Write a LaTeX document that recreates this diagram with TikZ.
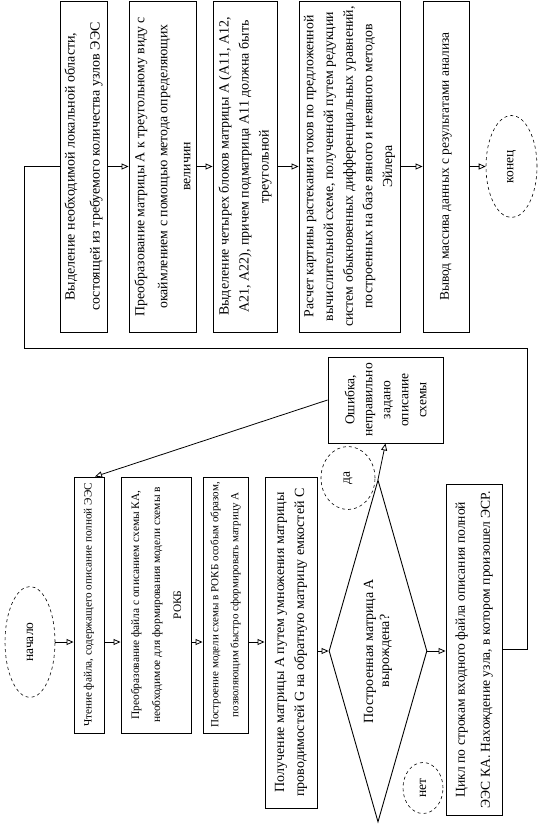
\documentclass[tikz,border=0pt]{standalone}
\usepackage{fontspec}
\setmainfont{Liberation Serif}
\usepackage{graphicx}
\usetikzlibrary{arrows.meta,shapes.geometric}
% rotated text block: width along the text, then the lines
\newcommand{\vtxt}[2]{\rotatebox{90}{\parbox{#1}{\centering #2}}}
\tikzset{
  >={Triangle[open,length=7pt,width=6pt]},
  fs/.style 2 args={font=\fontsize{#1}{#2}\selectfont},
  blk/.style={draw,line width=0.9pt,inner sep=0pt,fs={14}{20}},
  term/.style={ellipse,draw,dashed,line width=0.6pt,inner sep=0pt,fs={13.5}{15}},
  dec/.style={diamond,draw,line width=0.9pt,inner sep=0pt,aspect=0.29,fs={14}{16}},
  arr/.style={->,line width=0.8pt},
  ln/.style={line width=0.9pt},
}
\begin{document}
\begin{tikzpicture}[x=1pt,y=-1pt]
  \useasboundingbox (0,0) rectangle (552,828);
  % верхний ряд
  \node[blk,fs={14}{25},minimum width=47,minimum height=331] (b1) at (83.5,166.5)
    {\vtxt{326pt}{Выделение необходимой локальной области,\\
     состоящей из требуемого количества узлов ЭЭС}};
  \node[blk,fs={13.8}{23},minimum width=67,minimum height=331] (b2) at (162.5,166.5)
    {\vtxt{326pt}{Преобразование матрицы А к треугольному виду с\\
     окаймлением с помощью метода определяющих\\ величин}};
  \node[blk,minimum width=64,minimum height=331] (b3) at (245,166.5)
    {\vtxt{326pt}{Выделение четырех блоков матрицы А (А11, А12,\\
     А21, А22), причем подматрица А11 должна быть\\ треугольной}};
  \node[blk,fs={13.8}{19.7},minimum width=101,minimum height=331] (b4) at (349.5,166.5)
    {\vtxt{326pt}{Расчет картины растекания токов по предложенной\\
     вычислительной схеме, полученной путем редукции\\
     систем обыкновенных дифференциальных уравнений,\\
     построенных на базе явного и неявного методов\\ Эйлера}};
  \node[blk,fs={13.4}{20},minimum width=46,minimum height=331] (b5) at (446,166.5)
    {\vtxt{326pt}{Вывод массива данных с результатами анализа}};
  \node[term,minimum width=51,minimum height=102] (kon) at (511.5,166.5)
    {\rotatebox{90}{конец}};
  % нижний ряд
  \node[term,minimum width=50,minimum height=111] (nach) at (30,642)
    {\rotatebox{90}{начало}};
  \node[blk,fs={11.2}{20},minimum width=30,minimum height=256] (chten) at (89,605)
    {\vtxt{252pt}{Чтение файла, содержащего описание полной ЭЭС}};
  \node[blk,fs={11.4}{21},minimum width=70,minimum height=256] (preob) at (156,605)
    {\vtxt{252pt}{Преобразование файла с описанием схемы КА,\\
     необходимое для формирования модели схемы в\\ РОКБ}};
  \node[blk,fs={11}{20},minimum width=45,minimum height=256] (postr) at (225.5,605)
    {\vtxt{252pt}{Построение модели схемы в РОКБ особым образом,\\
     позволяющим быстро сформировать матрицу А}};
  \node[blk,minimum width=52,minimum height=331] (poluch) at (291,642.5)
    {\vtxt{326pt}{Получение матрицы А путем умножения матрицы\\
     проводимостей G на обратную матрицу емкостей С}};
  \node[dec,minimum width=98,minimum height=342] (dia) at (378,651)
    {\vtxt{170pt}{Построенная матрица А\\ вырождена?}};
  \node[blk,fs={13.6}{25},minimum width=56,minimum height=331] (cycl) at (474,649.5)
    {\vtxt{326pt}{Цикл по строкам входного файла описания полной\\
     ЭЭС КА. Нахождение узла, в котором произошел ЭСР.}};
  \node[blk,fs={13.5}{18},minimum width=115,minimum height=86] (err) at (385.5,400)
    {\vtxt{84pt}{Ошибка,\\ неправильно\\ задано\\ описание\\ схемы}};
  \node[term,minimum width=54,minimum height=63] (da) at (348,478)
    {\rotatebox{90}{да}};
  \node[term,minimum width=40,minimum height=51] (net) at (423,788)
    {\rotatebox{90}{нет}};
  % связи
  \draw[arr] (b1) -- (b2);
  \draw[arr] (b2) -- (b3);
  \draw[arr] (b3) -- (b4);
  \draw[arr] (b4) -- (b5);
  \draw[arr] (b5) -- (kon);
  \draw[arr] (nach.east) -- (nach.east -| chten.west);
  \draw[arr] (nach.east -| chten.east) -- (nach.east -| preob.west);
  \draw[arr] (nach.east -| preob.east) -- (nach.east -| postr.west);
  \draw[arr] (nach.east -| postr.east) -- (nach.east -| poluch.west);
  \draw[arr] (poluch.east |- dia.west) -- (dia.west);
  \draw[arr] (dia.east) -- (dia.east -| cycl.west);
  \draw[arr] (dia.north) -- (err.south);
  \draw[arr] (err.west) -- ([xshift=6pt]chten.north);
  % возврат к началу цикла
  \coordinate (lr) at (527,348);
  \coordinate (ll) at (24,348);
  \draw[ln] (cycl.east) -| (lr) -- (ll) |- (b1.west);
\end{tikzpicture}
\end{document}
